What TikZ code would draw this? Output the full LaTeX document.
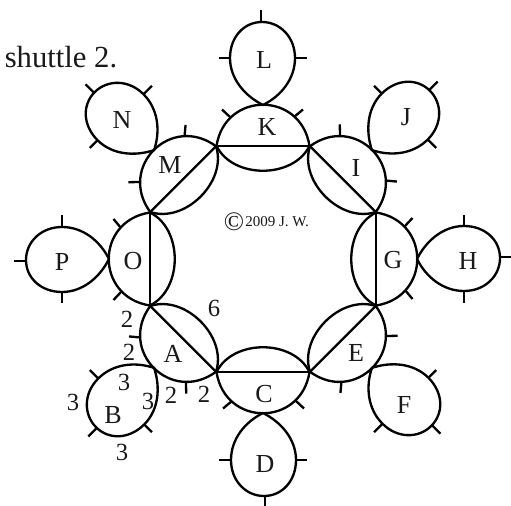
\documentclass[tikz,border=0pt]{standalone}
\usepackage{fontspec}
\setmainfont{Liberation Serif}
\tikzset{
  ln/.style={line width=1.75pt,line join=round,line cap=butt,black},
  lab/.style={inner sep=0pt,font=\fontsize{19.5}{20}\selectfont,text=black!90},
  num/.style={inner sep=0pt,font=\fontsize{18.5}{20}\selectfont,text=black!90},
  small/.style={inner sep=0pt,font=\fontsize{11.25}{12}\selectfont,text=black!90}
}
\begin{document}
\begin{tikzpicture}[x=0.75pt,y=-0.75pt]
\useasboundingbox (0,0) rectangle (511,506);
\clip (0,0) rectangle (511,506);
\foreach \i in {0,...,7}{
 \begin{scope}[shift={(263,259)},rotate=-45*\i]
  % ring segment with its chord
  \draw[ln] (-46.5,-113) .. controls (-38,-168) and (38,-168) .. (46.5,-113)
            .. controls (30,-80) and (-30,-80) .. (-46.5,-113) -- cycle;
  \draw[ln] (-46.5,-113) -- (46.5,-113);
  \draw[ln] (31,-142) -- (40,-149.5);
  \draw[ln] (-33,-142) -- (-41,-149.5);
  % outer teardrop
  \draw[ln] (0,-154) .. controls (18,-163) and (32,-180) .. (32,-201)
            .. controls (32,-222) and (17,-237) .. (-1,-237)
            .. controls (-19,-237) and (-33,-222) .. (-33,-201)
            .. controls (-33,-180) and (-18,-163) .. (0,-154) -- cycle;
  \draw[ln] (-2,-237) -- (-2,-249);
  \draw[ln] (32,-201) -- (44,-201);
  \draw[ln] (-33,-201) -- (-44,-201);
 \end{scope}
}
\node[lab] (A) at (173,354) {A};
\node[lab] (B) at (113,415) {B};
\node[lab] (C) at (264,394) {C};
\node[lab] (D) at (265,464) {D};
\node[lab] (E) at (356,353) {E};
\node[lab] (F) at (404,405) {F};
\node[lab] (G) at (393,260) {G};
\node[lab] (H) at (468,261) {H};
\node[lab] (I) at (356,168) {I};
\node[lab] (J) at (406,117) {J};
\node[lab] (K) at (267,127) {K};
\node[lab] (L) at (264,60) {L};
\node[lab] (M) at (170,165) {M};
\node[lab] (N) at (122,120) {N};
\node[lab] (O) at (133,261) {O};
\node[lab] (P) at (62,262) {P};
\node[num] (n1) at (127,319) {2};
\node[num] (n2) at (129,352) {2};
\node[num] (n3) at (124,382) {3};
\node[num] (n4) at (73,402) {3};
\node[num] (n5) at (148,401) {3};
\node[num] (n6) at (122,452) {3};
\node[num] (n7) at (171,395) {2};
\node[num] (n8) at (204,394) {2};
\node[num] (n9) at (214,308) {6};
\node[inner sep=0pt,anchor=base west,font=\fontsize{23}{24}\selectfont,text=black!90] (s) at (4.5,68) {shuttle 2.};
\node[small,anchor=base west] (c) at (245,226.5) {2009 J. W.};
\node[inner sep=0pt,font=\fontsize{20}{20}\selectfont,text=black!90] (cc) at (234,222) {©};
\end{tikzpicture}
\end{document}
